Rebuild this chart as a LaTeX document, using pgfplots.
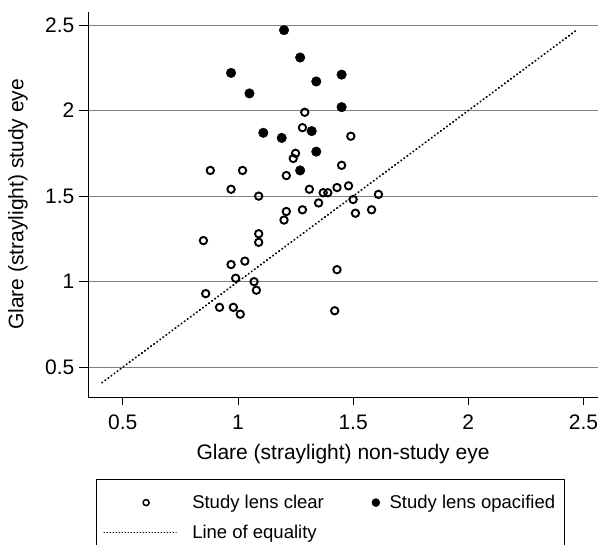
\documentclass[border=0pt]{standalone}
\usepackage{fontspec}
\setmainfont{Liberation Sans}
\usepackage{pgfplots}
\pgfplotsset{compat=1.18}
% legend images
\pgfplotsset{
  clearleg/.style={legend image code/.code={\draw[##1, mark size=3pt, line width=1.5pt] plot coordinates {(42pt,0pt)};}},
  opacleg/.style={legend image code/.code={\draw[##1, mark size=4pt] plot coordinates {(0pt,0pt)};}},
  lineleg/.style={legend image code/.code={\draw[##1, line width=1.3pt, dash pattern=on 0.4pt off 2.6pt] (0pt,0pt) -- (72pt,0pt);}},
}
\begin{document}
\begin{tikzpicture}
\begin{axis}[
  scale only axis, width=510pt, height=385pt,
  xmin=0.349, xmax=2.563, ymin=0.326, ymax=2.576,
  axis x line*=bottom, axis y line*=left,
  axis line style={black, line width=0.9pt},
  xtick={0.5,1,1.5,2,2.5}, ytick={0.5,1,1.5,2,2.5},
  tick align=outside, major tick length=8.5pt,
  tick style={black, line width=0.9pt},
  ymajorgrids, grid style={black!50, line width=0.9pt},
  /pgf/number format/assume math mode=true,
  tick label style={font=\fontsize{21}{25}\selectfont, inner sep=0pt},
  xticklabel style={anchor=north, yshift=-9pt},
  yticklabel style={anchor=east, xshift=-5pt},
  label style={font=\fontsize{21}{25}\selectfont, inner sep=0pt},
  xlabel={Glare (straylight) non-study eye},
  ylabel={Glare (straylight) study eye},
  xlabel style={at={(axis description cs:0.5,-0.1221)}, anchor=north},
  ylabel style={at={(axis description cs:-0.1569,0.5)}, anchor=north},
  legend columns=2,
  legend style={
    at={(axis description cs:0.0157,-0.213)}, anchor=north west,
    draw=black, line width=0.9pt,
    font=\fontsize{18.5}{22}\selectfont,
    inner xsep=7pt, inner ysep=13.7pt,
    row sep=11pt,
    cells={anchor=west, inner sep=0pt},
    /tikz/column 1/.style={column sep=13.5pt},
    /tikz/column 2/.style={column sep=46pt},
    /tikz/column 3/.style={column sep=7.7pt},
  },
]
% study lens clear
\addplot[only marks, mark=o, mark size=3.7pt, line width=1.9pt, black, clearleg]
coordinates {
(1.29,1.99) (1.28,1.90) (1.25,1.75) (1.24,1.72) (0.88,1.65) (1.02,1.65)
(1.21,1.62) (0.97,1.54) (1.09,1.50) (1.31,1.54) (1.37,1.52) (1.39,1.52)
(1.43,1.55) (1.45,1.68) (1.49,1.85) (1.48,1.56) (1.50,1.48) (1.61,1.51)
(1.21,1.41) (1.20,1.36) (1.28,1.42) (1.35,1.46) (1.51,1.40) (1.58,1.42)
(1.09,1.28) (1.09,1.23) (1.03,1.12) (1.43,1.07) (1.07,1.00) (1.08,0.95)
(1.42,0.83) (1.01,0.81) (0.85,1.24) (0.97,1.10) (0.99,1.02) (0.86,0.93)
(0.92,0.85) (0.98,0.85)
};
\addlegendentry{Study lens clear}
% study lens opacified
\addplot[only marks, mark=*, mark size=4.8pt, line width=0.4pt, black, opacleg]
coordinates {
(1.20,2.47) (1.27,2.31) (0.97,2.22) (1.34,2.17) (1.45,2.21) (1.05,2.10)
(1.45,2.02) (1.11,1.87) (1.19,1.84) (1.32,1.88) (1.34,1.76) (1.27,1.65)
};
\addlegendentry{Study lens opacified}
% line of equality
\addplot[black, line width=1.9pt, line cap=round, dash pattern=on 0.5pt off 3.3pt, lineleg]
coordinates {(0.41,0.41) (2.47,2.47)};
\addlegendentry{Line of equality}
\end{axis}
\pgfresetboundingbox
\path[use as bounding box] (-88pt,-148pt) rectangle (510pt,397pt);
\end{tikzpicture}
\end{document}
